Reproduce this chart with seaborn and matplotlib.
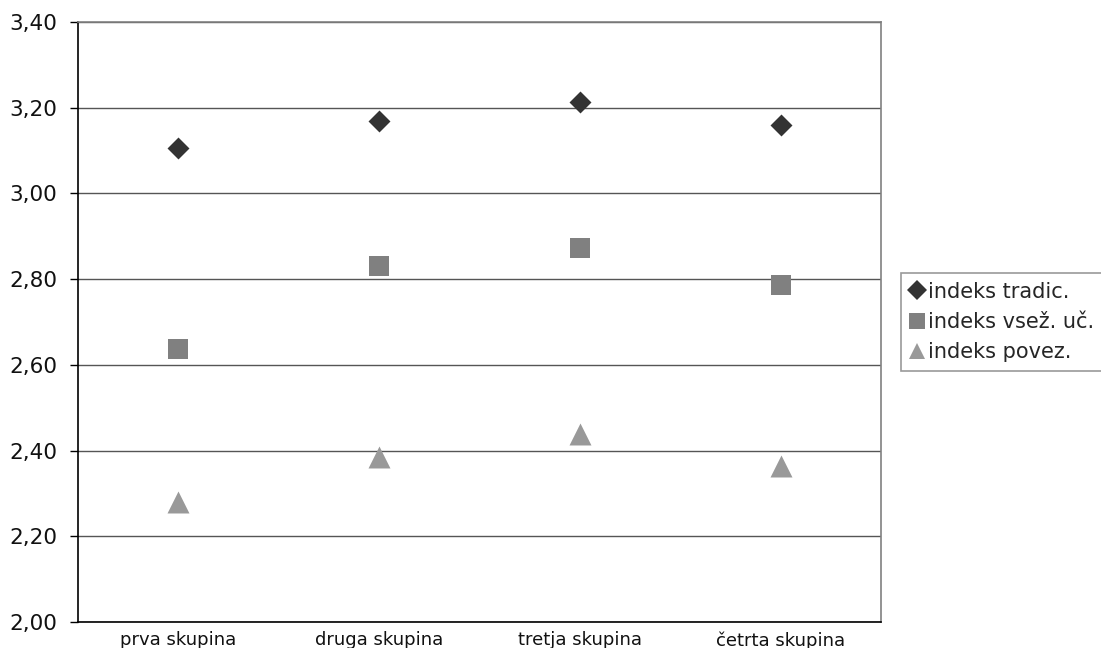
import matplotlib
matplotlib.use("Agg")
import matplotlib.pyplot as plt
import seaborn as sns
from matplotlib.lines import Line2D
from matplotlib.ticker import FuncFormatter, MultipleLocator

categories = ["prva skupina", "druga skupina", "tretja skupina", "četrta skupina"]
series_names = ["indeks tradic.", "indeks vsež. uč.", "indeks povez."]
tradic = [3.105, 3.168, 3.213, 3.160]
vsez = [2.637, 2.830, 2.872, 2.787]
povez = [2.281, 2.386, 2.439, 2.363]

sns.set_theme(style="white")
plt.rcParams['font.family'] = ['DejaVu Sans']

fig = plt.figure(figsize=(11.01, 6.48), dpi=100)
ax = fig.add_axes([78/1101, 26/648, 803/1101, 600/648])

styles = [
    (tradic, "D", "#333333", 125),
    (vsez, "s", "#808080", 200),
    (povez, "^", "#999999", 250),
]
xs = list(range(len(categories)))
for (vals, mk, col, s), name in zip(styles, series_names):
    sns.scatterplot(x=xs, y=vals, marker=mk, color=col, s=s, linewidth=0, ax=ax, zorder=3, legend=False)

ax.set_xlim(-0.5, 3.5)
ax.set_ylim(2.0, 3.4)
ax.yaxis.set_major_locator(MultipleLocator(0.2))
ax.yaxis.set_major_formatter(FuncFormatter(lambda v, p: f"{v:.2f}".replace(".", ",")))
ax.set_xticks(xs)
ax.set_xticklabels(categories)
ax.grid(axis="y", color="#555555", linewidth=1.0)
ax.set_axisbelow(True)
ax.tick_params(axis="y", left=True, length=6, width=1, color="black", labelsize=15.5, pad=9)
ax.tick_params(axis="x", bottom=False, labelsize=13, pad=0.5)
for lbl in ax.get_yticklabels() + ax.get_xticklabels():
    lbl.set_color("#111111")
ax.spines["left"].set_color("black")
ax.spines["bottom"].set_color("black")
ax.spines["top"].set_color("#808080")
ax.spines["right"].set_color("#808080")
for sp in ax.spines.values():
    sp.set_linewidth(1.2)
    sp.set_visible(True)
ax.set_xlabel("")
ax.set_ylabel("")

handles = [
    Line2D([], [], marker="D", color="#333333", linestyle="none", markersize=10, markeredgewidth=0),
    Line2D([], [], marker="s", color="#808080", linestyle="none", markersize=11, markeredgewidth=0),
    Line2D([], [], marker="^", color="#999999", linestyle="none", markersize=12, markeredgewidth=0),
]
leg = fig.legend(handles, series_names, loc="center left", bbox_to_anchor=(901/1101, 0.503),
                 frameon=True, fancybox=False, fontsize=15, handlelength=0.7, handletextpad=0.2,
                 borderpad=0.4, labelspacing=0.5, borderaxespad=0)
leg.get_frame().set_edgecolor("#808080")
leg.get_frame().set_linewidth(1.2)

fig.savefig("out.png", dpi=100)
